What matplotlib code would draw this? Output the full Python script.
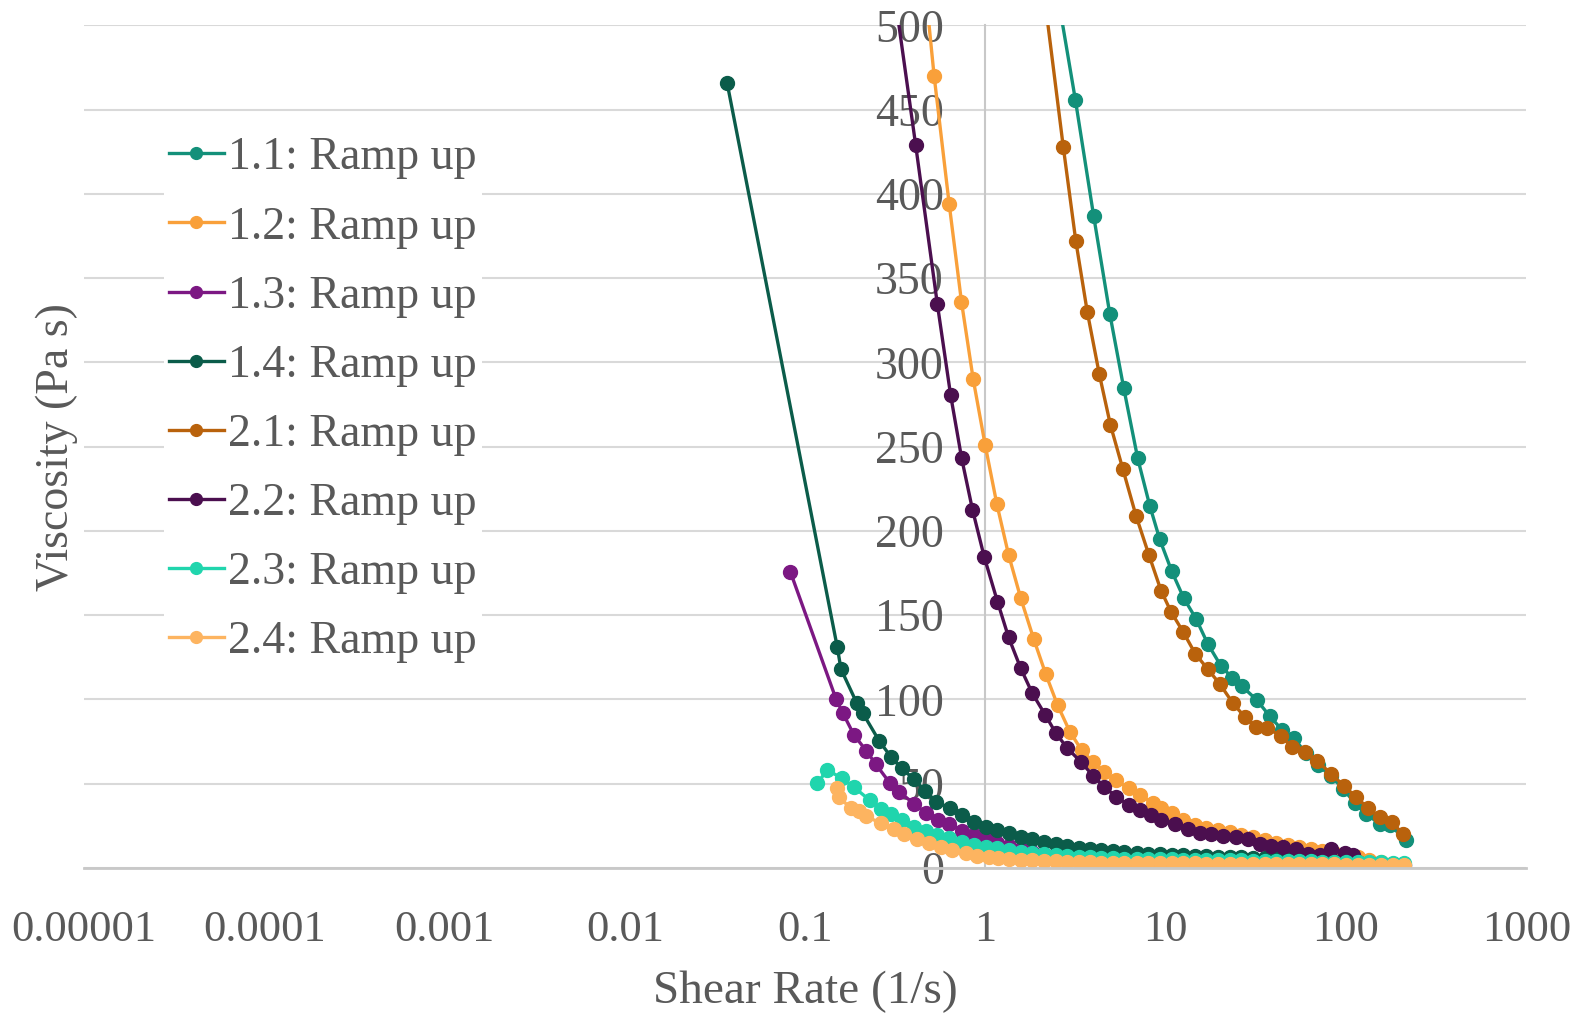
import matplotlib
matplotlib.use('Agg')
import matplotlib.pyplot as plt
from matplotlib.ticker import FixedLocator, FixedFormatter

plt.rcParams['font.family'] = ['Liberation Serif', 'DejaVu Serif']

TEXT_GRAY = '#595959'

# shared shear-rate grid for the tails of the low-viscosity series (1/s)
TAIL_RATE = [1.35, 1.57, 1.82, 2.1, 2.45, 2.85, 3.3, 3.8, 4.4, 5.1, 5.9, 6.9, 8.0, 9.3, 10.8,
             12.5, 14.5, 16.8, 19.5, 22.6, 26.2, 30.4, 35.3, 41, 47.5, 55, 64, 74, 86, 100,
             116, 134, 156, 181, 210]

RATE_11 = [2.45, 3.15, 3.98, 4.89, 5.84, 6.99, 8.15, 9.26, 10.8, 12.6, 14.7, 17.1, 20.2, 23.3,
           26.4, 32.0, 37.8, 44.1, 51.4, 60.0, 69.9, 82.5, 96.2, 112, 129, 155, 175, 215]
VISC_11 = [525, 456, 387, 329, 285, 243, 215, 195, 176, 160, 148, 133, 120, 113,
           108, 99.6, 90, 82, 77, 68, 61, 54.6, 46.9, 38.6, 32, 26, 25.5, 16.6]

RATE_12 = [0.427, 0.519, 0.629, 0.736, 0.855, 0.996, 1.156, 1.342, 1.57, 1.85, 2.16, 2.51, 2.94,
           3.41, 3.93, 4.56, 5.29, 6.23, 7.20, 8.47, 9.38, 10.8, 12.5, 14.5, 16.8, 19.5, 22.6,
           26.2, 30.4, 35.3, 41, 47.5, 55, 64, 74, 86, 100, 116, 134, 156, 181]
VISC_12 = [561, 470, 394, 336, 290, 251, 216, 186, 160, 136, 115, 96.7, 80.8,
           70, 63, 57, 52, 47.3, 43.3, 38.6, 35.6, 32.6, 28.5, 25.8, 24.0, 22.5, 21.1,
           19.6, 18.1, 16.6, 15.1, 13.6, 12.5, 11.3, 10.1, 8.9, 7.7, 6.5, 5.0, 3.6, 2.4]

RATE_13 = [0.0828, 0.1486, 0.162, 0.1866, 0.218, 0.246, 0.294, 0.332, 0.402, 0.466, 0.548,
           0.629, 0.745, 0.866, 1.004, 1.166]
VISC_13 = [175.7, 100, 91.8, 78.9, 69.6, 61.7, 50.6, 45.3, 38, 32.8, 28.5,
           26.1, 22.1, 19.6, 17.6, 15]
TAIL_13 = [12.8, 11.0, 9.6, 8.4, 7.4, 6.6, 6.0, 5.5, 5.1, 4.8, 4.6, 4.4, 4.2, 4.1, 4.0, 3.9,
           3.8, 3.7, 3.6, 3.5, 3.4, 3.3, 3.2, 3.1, 3.0, 2.9, 2.8, 2.7, 2.6, 2.5, 2.4, 2.3,
           2.2, 2.1, 2.0]

RATE_14 = [0.0369, 0.1507, 0.158, 0.193, 0.209, 0.257, 0.30, 0.343, 0.402, 0.462, 0.535,
           0.637, 0.745, 0.866, 1.004, 1.166]
VISC_14 = [465.8, 131, 118, 98, 91.8, 75.5, 65.7, 59.1, 52.6, 45.8, 39.3,
           35.4, 31.4, 27.5, 24.5, 22.5]
TAIL_14 = [20.6, 18.6, 17.0, 15.6, 14.2, 12.9, 11.9, 11.0, 10.4, 9.8, 9.3, 8.8, 8.4, 8.1,
           7.8, 7.5, 7.2, 7.0, 6.8, 6.6, 6.4, 6.2, 6.0, 5.8, 5.5, 5.2, 4.9, 4.5, 4.1, 3.7,
           3.3, 2.9, 2.6, 2.3, 2.0]

RATE_21 = [2.05, 2.70, 3.17, 3.67, 4.28, 4.93, 5.77, 6.84, 8.05, 9.42, 10.7, 12.5, 14.6, 17.1,
           20.0, 23.6, 27.4, 31.7, 36.5, 43.4, 50.3, 59.4, 69.0, 82.8, 97.1, 113, 133, 155,
           179, 206]
VISC_21 = [530, 428, 372, 330, 293, 263, 237, 209, 186, 164.5, 152, 140, 127, 118,
           109, 97.7, 89.7, 83.8, 82.9, 78.5, 71.6, 68.6, 63.6, 55.8, 48.8, 42.3, 35.4, 30.1,
           27.5, 20.2]

RATE_22 = [0.31, 0.41, 0.541, 0.641, 0.738, 0.847, 0.984, 1.166, 1.342, 1.57, 1.82, 2.15,
           2.46, 2.85, 3.38, 3.96, 4.56, 5.29, 6.23, 7.2, 8.28, 9.42, 11.3, 13.3, 15.4, 17.9,
           20.9, 24.4, 28.6, 33.2, 38.5, 44.7, 53, 61.5, 71.4, 82.2, 98.4, 109, 135, 161]
VISC_22 = [522, 429, 334.5, 280.5, 243, 212.7, 184.6, 158, 137, 118.4, 103.6, 90.7,
           79.9, 71, 63, 54.6, 48.2, 42.3, 37.4, 34.4, 31.4, 28.5, 26.1, 23, 20.9, 20.2,
           19, 18.2, 17, 14.2, 13, 12.3, 11.1, 8.1, 7.7, 11.1, 9.1, 7.7, 3.1, 2.4]

RATE_23 = [0.1166, 0.1325, 0.1606, 0.1866, 0.2276, 0.262, 0.298, 0.346, 0.402, 0.466, 0.541,
           0.629, 0.738, 0.866, 1.004, 1.166]
VISC_23 = [50.2, 58.1, 53.2, 47.9, 40.3, 34.8, 32, 28.5, 24.5, 22.1, 19.6,
           17.6, 15.6, 13.6, 12.6, 11.7]
TAIL_23 = [10.6, 9.6, 8.8, 8.1, 7.5, 7.0, 6.6, 6.3, 6.0, 5.8, 5.6, 5.4, 5.3, 5.2, 5.1, 5.0,
           4.9, 4.8, 4.7, 4.6, 4.5, 4.4, 4.3, 4.2, 4.1, 4.0, 3.9, 3.8, 3.7, 3.6, 3.5, 3.4,
           3.3, 3.2, 3.1]

RATE_24 = [0.1507, 0.1538, 0.1786, 0.1987, 0.218, 0.262, 0.311, 0.353, 0.419, 0.486, 0.565,
           0.656, 0.778, 0.903, 1.048, 1.17]
VISC_24 = [47.3, 42.3, 35.4, 34, 30.8, 26.5, 23, 20.2, 17.2, 14.7, 12.6,
           10.7, 8.7, 7.1, 6.3, 5.8]
TAIL_24 = [5.4, 4.9, 4.5, 4.2, 3.9, 3.7, 3.5, 3.3, 3.2, 3.1, 3.0, 2.9, 2.9, 2.8, 2.8, 2.7,
           2.7, 2.6, 2.6, 2.5, 2.5, 2.4, 2.4, 2.3, 2.3, 2.2, 2.2, 2.1, 2.1, 2.0, 2.0, 1.9,
           1.9, 1.8, 1.8]

X_TICKS = [1e-5, 1e-4, 1e-3, 1e-2, 1e-1, 1, 10, 100, 1000]
X_TICK_LABELS = ['0.00001', '0.0001', '0.001', '0.01', '0.1', '1', '10', '100', '1000']
Y_TICKS = [0, 50, 100, 150, 200, 250, 300, 350, 400, 450, 500]

series = [
    ('1.1: Ramp up', RATE_11, VISC_11, '#13907A'),
    ('1.2: Ramp up', RATE_12, VISC_12, '#F9A03A'),
    ('1.3: Ramp up', RATE_13 + TAIL_RATE, VISC_13 + TAIL_13, '#7C1883'),
    ('1.4: Ramp up', RATE_14 + TAIL_RATE, VISC_14 + TAIL_14, '#0B5C4A'),
    ('2.1: Ramp up', RATE_21, VISC_21, '#B9620C'),
    ('2.2: Ramp up', RATE_22, VISC_22, '#4B0F4F'),
    ('2.3: Ramp up', RATE_23 + TAIL_RATE, VISC_23 + TAIL_23, '#20D5AD'),
    ('2.4: Ramp up', RATE_24 + TAIL_RATE, VISC_24 + TAIL_24, '#FDB460'),
]

fig = plt.figure(figsize=(15.85, 10.14), dpi=100)
ax = fig.add_axes([0.053, 0.144, 0.91, 0.831])

for label, x, y, color in series:
    ax.plot(x, y, color=color, lw=2.4, marker='o', markersize=10, label=label)

ax.set_xscale('log')
ax.set_xlim(1e-5, 1000)
ax.set_ylim(0, 500)
ax.xaxis.set_major_locator(FixedLocator(X_TICKS))
ax.xaxis.set_major_formatter(FixedFormatter(X_TICK_LABELS))
ax.xaxis.set_minor_locator(FixedLocator([]))
ax.set_yticks(Y_TICKS)

ax.grid(axis='y', color='#d9d9d9', lw=1.5)
ax.set_axisbelow(True)
for side in ['top', 'right']:
    ax.spines[side].set_visible(False)
ax.spines['left'].set_position(('data', 1))
ax.spines['left'].set_color('#c8c8c8')
ax.spines['left'].set_linewidth(1.5)
ax.spines['left'].set_zorder(1)
ax.spines['bottom'].set_color('#c8c8c8')
ax.spines['bottom'].set_linewidth(2)

ax.tick_params(axis='both', length=0, labelcolor=TEXT_GRAY)
ax.tick_params(axis='y', pad=30, labelsize=33)
ax.tick_params(axis='x', pad=30, labelsize=32)

ax.set_xlabel('Shear Rate (1/s)', fontsize=34, color=TEXT_GRAY, labelpad=15)
ax.set_ylabel('Viscosity (Pa s)', fontsize=33, color=TEXT_GRAY)
ax.yaxis.set_label_coords(-0.004, 0.5)

leg = ax.legend(loc='upper left', bbox_to_anchor=(0.0555, 0.873), fontsize=33,
                frameon=True, edgecolor='none', facecolor='white', framealpha=1,
                handlelength=1.2, handletextpad=0.1, labelspacing=0.58,
                borderpad=0.1, borderaxespad=0, markerscale=0.85)
for t in leg.get_texts():
    t.set_color(TEXT_GRAY)

fig.savefig('out.png', dpi=100)
